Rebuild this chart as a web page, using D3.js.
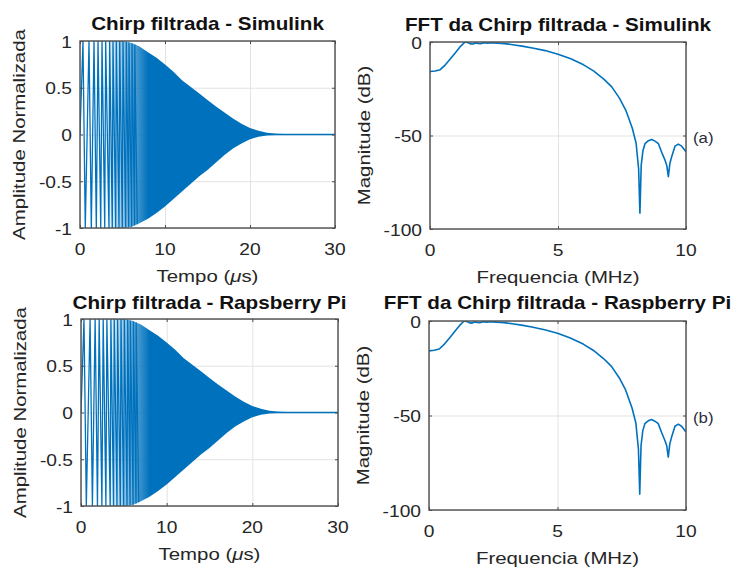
<!DOCTYPE html>
<html>
<head>
<meta charset="utf-8">
<script src="https://cdn.jsdelivr.net/npm/d3@7"></script>
<style>
  body { margin: 0; background: #fff; }
  svg { display: block; }
</style>
</head>
<body>
<div id="fig"></div>
<script>
// Ticks dos eixos
const tempoTicks = [0, 10, 20, 30];
const ampTicks = [-1, -0.5, 0, 0.5, 1];
const freqTicks = [0, 5, 10];
const magTicks = [-100, -50, 0];

// Picos da parte inicial da chirp (us) e o lado de cada pico (+1 topo, -1 fundo)
const picosTempo = [0, 0.35, 0.62, 1.06, 1.33, 1.65, 1.92, 2.12, 2.44, 2.59, 2.91, 3.02, 3.41, 3.49, 3.80, 3.88,
                    4.20, 4.27, 4.59, 4.67, 4.98, 5.06, 5.37, 5.45, 5.73, 5.76, 6.08, 6.12, 6.42, 6.44, 6.74];
const picosNivel = [0, 1, -1, 1, -1, 1, -1, 1, -1, 1, -1, 1, -1, 1, -1, 1,
                    -1, 1, -1, 1, -1, 1, -1, 1, -1, 1, -1, 1, -1, 1, -1];

// Envoltoria da parte densa da chirp
const envTempo = [0, 5, 6, 7, 8, 9, 10, 11, 12, 13, 14, 15, 16, 17, 18, 19, 20, 21, 22, 23, 24, 26, 30];
const envSup = [1, 1, 0.98, 0.94, 0.88, 0.82, 0.75, 0.67, 0.58, 0.51, 0.44, 0.37, 0.30, 0.235, 0.17, 0.115, 0.07, 0.04, 0.018, 0.01, 0.008, 0.008, 0.008];
const envInf = [-1, -1, -0.99, -0.95, -0.9, -0.84, -0.77, -0.69, -0.61, -0.53, -0.45, -0.38, -0.30, -0.22, -0.15, -0.095, -0.05, -0.025, -0.012, -0.009, -0.008, -0.008, -0.008];

// FFT da chirp filtrada (MHz, dB)
const fftFreq = [0, 0.2, 0.4, 0.6, 0.8, 1.0, 1.2, 1.37, 1.47, 1.58, 1.68, 1.78, 1.88, 1.98, 2.1, 2.25, 2.4, 2.6, 2.8, 3.0,
                 3.3, 3.6, 4.0, 4.5, 5.0, 5.5, 6.0, 6.4, 6.8, 7.1, 7.4, 7.65, 7.9, 8.05, 8.15, 8.2, 8.25, 8.32, 8.4, 8.53,
                 8.66, 8.79, 8.92, 9.05, 9.18, 9.25, 9.31, 9.37, 9.44, 9.57, 9.7, 9.83, 10];
const fftMag = [-15.8, -15.5, -14.8, -12.2, -9, -5.6, -2.2, 0, -0.3, -1.0, -1.1, -0.5, -0.8, -0.9, -0.4, -0.7, -0.4, -0.6, -0.8, -1.0,
                -1.6, -2.2, -3.2, -4.6, -6.5, -9.0, -12.2, -15.6, -20, -24, -30, -36.5, -46, -54, -68, -91.6, -66, -58, -54.3, -52.8,
                -52.1, -53, -54.3, -59, -63.2, -66, -72, -65, -61.4, -55.7, -54.6, -55.7, -58.7];

// Layout dos quatro graficos
const paineis = [
  { x0: 80, x1: 335, y0: 41, y1: 228, tipo: "chirp", titulo: "Chirp filtrada - Simulink", tituloY: 29.5 },
  { x0: 430, x1: 686, y0: 42, y1: 229, tipo: "fft", titulo: "FFT da Chirp filtrada - Simulink", tituloY: 30.5, nota: "(a)" },
  { x0: 81, x1: 338, y0: 319, y1: 506, tipo: "chirp", titulo: "Chirp filtrada - Rapsberry Pi", tituloY: 308.5 },
  { x0: 429, x1: 686, y0: 321, y1: 510, tipo: "fft", titulo: "FFT da Chirp filtrada - Raspberry Pi", tituloY: 308.5, nota: "(b)" }
];

const azul = "#0072BD";
const cinzaTexto = "#262626";
const fonte = "'Liberation Sans', Arial, Helvetica, sans-serif";
const esticar = 1.2; // o texto do original e mais largo que o Arial

const svg = d3.select("#fig").append("svg")
  .attr("width", 732)
  .attr("height", 567);

const defs = svg.append("defs");

function texto(g, x, y, str, size, opts = {}) {
  const rot = opts.rotate ? " rotate(-90)" : "";
  const t = g.append("text")
    .attr("transform", `translate(${x},${y})${rot} scale(${opts.sx || esticar},1)`)
    .attr("text-anchor", opts.anchor || "middle")
    .attr("font-family", fonte)
    .attr("font-size", size)
    .attr("font-weight", opts.bold ? "bold" : "normal")
    .attr("fill", opts.cor || cinzaTexto);
  return t.text(str);
}

paineis.forEach((p, i) => {
  const w = p.x1 - p.x0, h = p.y1 - p.y0;
  const g = svg.append("g").attr("transform", `translate(${p.x0},${p.y0})`);
  const ehChirp = p.tipo === "chirp";

  const x = d3.scaleLinear().domain(ehChirp ? [0, 30] : [0, 10]).range([0, w]);
  const y = d3.scaleLinear().domain(ehChirp ? [-1, 1] : [-100, 0]).range([h, 0]);
  const xt = ehChirp ? tempoTicks : freqTicks;
  const yt = ehChirp ? ampTicks : magTicks;

  // Grade
  g.append("g").attr("transform", `translate(0,${h})`)
    .call(d3.axisBottom(x).tickValues(xt).tickSize(-h).tickFormat(""))
    .call(a => a.select(".domain").remove())
    .call(a => a.selectAll("line").attr("stroke", "#e3e3e3").attr("stroke-width", 1));
  g.append("g")
    .call(d3.axisLeft(y).tickValues(yt).tickSize(-w).tickFormat(""))
    .call(a => a.select(".domain").remove())
    .call(a => a.selectAll("line").attr("stroke", "#e3e3e3").attr("stroke-width", 1));

  // Clip
  const clipId = "clip" + i;
  defs.append("clipPath").attr("id", clipId)
    .append("rect").attr("width", w).attr("height", h);
  const plot = g.append("g").attr("clip-path", `url(#${clipId})`);

  if (ehChirp) {
    const envData = envTempo.map((t, k) => ({ t, sup: envSup[k], inf: envInf[k] }));
    const envS = d3.scaleLinear().domain(envTempo).range(envSup);
    const envI = d3.scaleLinear().domain(envTempo).range(envInf);

    // parte densa: gradiente que vai enchendo entre 3 e 8 us
    const gradId = "grad" + i;
    const grad = defs.append("linearGradient").attr("id", gradId)
      .attr("gradientUnits", "userSpaceOnUse")
      .attr("x1", x(3)).attr("x2", x(8)).attr("y1", 0).attr("y2", 0);
    grad.append("stop").attr("offset", "0").attr("stop-color", azul).attr("stop-opacity", 0);
    grad.append("stop").attr("offset", "0.45").attr("stop-color", azul).attr("stop-opacity", 0.45);
    grad.append("stop").attr("offset", "1").attr("stop-color", azul).attr("stop-opacity", 1);

    plot.append("path")
      .datum(envData)
      .attr("fill", `url(#${gradId})`)
      .attr("d", d3.area().x(d => x(d.t)).y0(d => y(d.inf)).y1(d => y(d.sup)));

    // parte inicial: oscilacoes separadas
    const picos = picosTempo.map((t, k) => ({
      t, v: picosNivel[k] > 0 ? envS(t) : picosNivel[k] < 0 ? envI(t) : 0
    }));
    plot.append("path")
      .datum(picos)
      .attr("fill", "none")
      .attr("stroke", azul)
      .attr("stroke-width", 1.3)
      .attr("d", d3.line().x(d => x(d.t)).y(d => y(d.v)));
  } else {
    const fft = fftFreq.map((f, k) => ({ f, m: fftMag[k] }));
    plot.append("path")
      .datum(fft)
      .attr("fill", "none")
      .attr("stroke", azul)
      .attr("stroke-width", 1.6)
      .attr("stroke-linejoin", "round")
      .attr("d", d3.line().x(d => x(d.f)).y(d => y(d.m)));
  }

  // Ticks internos nos quatro lados
  const estiloTick = a => {
    a.select(".domain").remove();
    a.selectAll("line").attr("stroke", "#4d4d4d").attr("stroke-width", 1);
  };
  const eixoX = g.append("g").attr("transform", `translate(0,${h})`)
    .call(d3.axisBottom(x).tickValues(xt).tickSizeInner(-3).tickSizeOuter(0).tickPadding(0).tickFormat(""))
    .call(estiloTick);
  g.append("g")
    .call(d3.axisTop(x).tickValues(xt).tickSizeInner(-3).tickSizeOuter(0).tickFormat(""))
    .call(estiloTick);
  g.append("g")
    .call(d3.axisLeft(y).tickValues(yt).tickSizeInner(-3).tickSizeOuter(0).tickFormat(""))
    .call(estiloTick);
  g.append("g").attr("transform", `translate(${w},0)`)
    .call(d3.axisRight(y).tickValues(yt).tickSizeInner(-3).tickSizeOuter(0).tickFormat(""))
    .call(estiloTick);

  // Caixa
  g.append("rect")
    .attr("width", w).attr("height", h)
    .attr("fill", "none")
    .attr("stroke", "#4d4d4d")
    .attr("stroke-width", 1.4);

  // Rotulos dos ticks
  xt.forEach(v => texto(g, x(v), h + 27, String(v), 16));
  yt.forEach(v => texto(g, -8, y(v) + 6.5, String(v), 16, { anchor: "end" }));

  // Titulo
  texto(svg, (p.x0 + p.x1) / 2, p.tituloY, p.titulo, 17.5, { bold: true, cor: "#111", sx: 1.18 });

  // Rotulo do eixo X
  if (ehChirp) {
    const t = texto(svg, (p.x0 + p.x1) / 2, p.y1 + 54, "", 17);
    t.append("tspan").text("Tempo (");
    t.append("tspan").attr("font-style", "italic").text("\u03bc");
    t.append("tspan").text("s)");
  } else {
    texto(svg, (p.x0 + p.x1) / 2, p.y1 + 54, "Frequencia (MHz)", 17);
  }

  // Rotulo do eixo Y
  const yMeio = (p.y0 + p.y1) / 2;
  if (ehChirp) {
    texto(svg, p.x0 - 55, yMeio, "Amplitude Normalizada", 17, { rotate: true });
  } else {
    texto(svg, p.x0 - 60, yMeio, "Magnitude (dB)", 17, { rotate: true });
  }

  // Nota (a) / (b)
  if (p.nota) {
    texto(svg, p.x1 + 7, y(-50) + p.y0 + 7, p.nota, 15, { anchor: "start", cor: "#2b2b40", sx: 1.12 });
  }
});
</script>
</body>
</html>
